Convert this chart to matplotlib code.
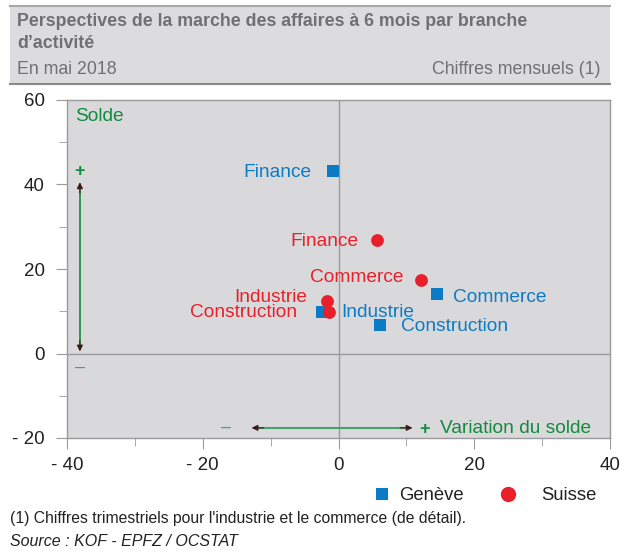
import matplotlib
matplotlib.use("Agg")
import matplotlib.pyplot as plt
from matplotlib.patches import Rectangle
from matplotlib.lines import Line2D

plt.rcParams['font.family'] = ['Liberation Sans', 'DejaVu Sans']

categories = ["Finance", "Commerce", "Industrie", "Construction"]
geneve_x = [-0.8, 14.5, -2.4, 6.1]
geneve_y = [43.3, 14.0, 9.8, 6.7]
suisse_x = [5.7, 12.2, -1.7, -1.4]
suisse_y = [26.9, 17.4, 12.4, 9.8]
xticks = [-40, -20, 0, 20, 40]
yticks = [-20, 0, 20, 40, 60]

BLUE = "#0a7bc4"
RED = "#e8202a"
GREEN = "#138a3e"
GRAY_TXT = "#707070"
TXT = "#222222"

W, H = 627, 552
fig = plt.figure(figsize=(W / 100, H / 100), dpi=100)

def fx(px): return px / W
def fy(py): return 1 - py / H

# Header band
fig.patches.append(Rectangle((fx(10), fy(84)), fx(610 - 10), fy(6) - fy(84),
                             transform=fig.transFigure, facecolor="#dcdcde", edgecolor="none", zorder=0))
fig.lines.append(Line2D([fx(10), fx(610)], [fy(6), fy(6)], transform=fig.transFigure, color="#a8a8a8", lw=1.5))
fig.lines.append(Line2D([fx(10), fx(610)], [fy(84), fy(84)], transform=fig.transFigure, color="#8a8a8a", lw=1.5))
fig.text(fx(17), fy(22), "Perspectives de la marche des affaires à 6 mois par branche",
         fontsize=12.8, fontweight="bold", color=GRAY_TXT, va="center", ha="left")
fig.text(fx(17), fy(43), "d’activité", fontsize=12.8, fontweight="bold", color=GRAY_TXT, va="center", ha="left")
fig.text(fx(17), fy(69), "En mai 2018", fontsize=12.8, color=GRAY_TXT, va="center", ha="left")
fig.text(fx(601), fy(69), "Chiffres mensuels (1)", fontsize=12.8, color=GRAY_TXT, va="center", ha="right")

ax = fig.add_axes([fx(67), fy(438), fx(610 - 67), fy(100) - fy(438)])
ax.set_facecolor("#d9d9db")
ax.set_xlim(-40, 40)
ax.set_ylim(-20, 60)
for s in ax.spines.values():
    s.set_color("#9a9a9a")
    s.set_linewidth(1)
ax.axvline(0, color="#9a9a9a", lw=1, zorder=1)
ax.axhline(0, color="#9a9a9a", lw=1, zorder=1)

ax.set_xticks(xticks)
ax.set_xticklabels([f"- {abs(v)}" if v < 0 else str(v) for v in xticks])
ax.set_xticks(range(-40, 41, 10), minor=True)
ax.set_yticks(yticks)
ax.set_yticklabels([f"- {abs(v)}" if v < 0 else str(v) for v in yticks])
ax.set_yticks(range(-20, 61, 10), minor=True)
ax.tick_params(axis="both", which="both", direction="out", color="#9a9a9a", labelsize=13.5, labelcolor=TXT)
ax.tick_params(axis="x", which="major", length=8, pad=6)
ax.tick_params(axis="x", which="minor", length=6)
ax.tick_params(axis="y", which="major", length=8, pad=8)
ax.tick_params(axis="y", which="minor", length=6)

ax.scatter(geneve_x, geneve_y, marker="s", s=64, color=BLUE, zorder=3, linewidths=0)
ax.scatter(suisse_x, suisse_y, marker="o", s=85, color=RED, zorder=4, linewidths=0)

FS = 13.8
DY = -0.4
# Genève labels: (x anchor, y, ha)
g_lab = {"Finance": (-4.05, 43.3, "right"), "Commerce": (16.9, 13.6, "left"),
         "Industrie": (0.35, 10.0, "left"), "Construction": (9.2, 6.7, "left")}
for c in categories:
    x, y, ha = g_lab[c]
    ax.text(x, y + DY, c, color=BLUE, fontsize=FS, ha=ha, va="center", zorder=5)
s_lab = {"Finance": (2.9, 26.9), "Commerce": (9.65, 18.3), "Industrie": (-4.6, 13.6),
         "Construction": (-6.1, 10.0)}
for c in categories:
    x, y = s_lab[c]
    ax.text(x, y + DY, c, color=RED, fontsize=FS, ha="right", va="center", zorder=5)

# Annotations
ARROW_HEAD = "#3a1a1a"
ax.text(-38.8, 56.0, "Solde", color=GREEN, fontsize=FS, ha="left", va="center")
ax.text(-38.1, 43.0, "+", color=GREEN, fontsize=13, fontweight="bold", ha="center", va="center")
ax.text(-38.1, -3.3, "–", color="#4aa06a", fontsize=13, ha="center", va="center")
ax.plot([-38.1, -38.1], [1.0, 40.0], color=GREEN, lw=1.2, zorder=2)
ax.annotate("", xy=(-38.1, 40.5), xytext=(-38.1, 38.0),
            arrowprops=dict(arrowstyle="-|>", color=ARROW_HEAD, lw=0.8, mutation_scale=9, shrinkA=0, shrinkB=0))
ax.annotate("", xy=(-38.1, 0.5), xytext=(-38.1, 3.0),
            arrowprops=dict(arrowstyle="-|>", color=ARROW_HEAD, lw=0.8, mutation_scale=9, shrinkA=0, shrinkB=0))
ax.plot([-12.3, 10.4], [-17.6, -17.6], color="#4aa06a", lw=1.5, zorder=2)
ax.annotate("", xy=(-12.8, -17.6), xytext=(-11.0, -17.6),
            arrowprops=dict(arrowstyle="-|>", color=ARROW_HEAD, lw=0.8, mutation_scale=9, shrinkA=0, shrinkB=0))
ax.annotate("", xy=(10.9, -17.6), xytext=(9.1, -17.6),
            arrowprops=dict(arrowstyle="-|>", color=ARROW_HEAD, lw=0.8, mutation_scale=9, shrinkA=0, shrinkB=0))
ax.text(-16.6, -17.4, "–", color="#4aa06a", fontsize=13, ha="center", va="center")
ax.text(12.6, -18.1, "+", color=GREEN, fontsize=13, fontweight="bold", ha="center", va="center")
ax.text(15.0, -17.7, "Variation du solde", color=GREEN, fontsize=FS, ha="left", va="center")

# Legend
fig.patches.append(Rectangle((fx(376), fy(500)), fx(12), fy(488) - fy(500),
                             transform=fig.transFigure, facecolor=BLUE, edgecolor="none"))
fig.text(fx(399), fy(495), "Genève", fontsize=13.3, color=TXT, va="center", ha="left")
fig.lines.append(Line2D([fx(508)], [fy(494)], transform=fig.transFigure, marker="o",
                        markersize=11, color=RED, markeredgewidth=0, linestyle="none"))
fig.text(fx(541), fy(495), "Suisse", fontsize=13.3, color=TXT, va="center", ha="left")

fig.text(fx(10), fy(518), "(1) Chiffres trimestriels pour l'industrie et le commerce (de détail).",
         fontsize=11.3, color=TXT, va="center", ha="left")
fig.text(fx(10), fy(542), "Source : KOF - EPFZ / OCSTAT", fontsize=11.5, color=TXT,
         style="italic", va="center", ha="left")

fig.savefig("out.png", dpi=100)
